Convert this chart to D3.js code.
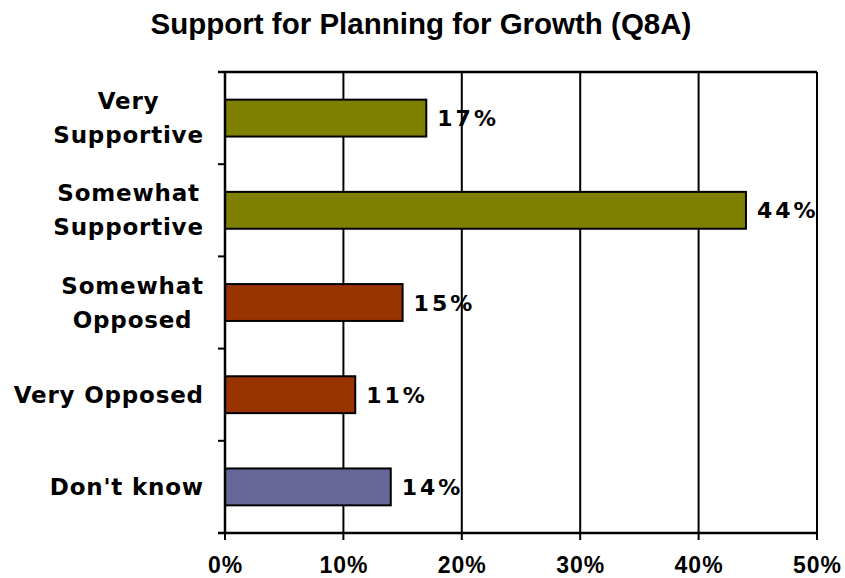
<!DOCTYPE html>
<html>
<head>
<meta charset="utf-8">
<script src="https://cdn.jsdelivr.net/npm/d3@7"></script>
<style>
  html, body { margin: 0; padding: 0; background: #fff; }
  svg { display: block; }
</style>
</head>
<body>
<svg id="chart" width="845" height="578"></svg>
<script>
// Survey responses, top to bottom
const categories = [["Very", "Supportive"], ["Somewhat", "Supportive"], ["Somewhat", "Opposed"], ["Very Opposed"], ["Don't know"]];
const values = [17, 44, 15, 11, 14];
const barColors = ["#808000", "#808000", "#993300", "#993300", "#666699"];
const xTicks = [0, 10, 20, 30, 40, 50];
const chartTitle = "Support for Planning for Growth (Q8A)";

const svg = d3.select("#chart");
const margin = { top: 72, right: 28, bottom: 45, left: 225 };
const W = 845, H = 578;
const innerW = W - margin.left - margin.right;
const innerH = H - margin.top - margin.bottom;

const keys = categories.map((c, i) => i);
const x = d3.scaleLinear().domain([0, 50]).range([0, innerW]);
const y = d3.scaleBand().domain(keys).range([0, innerH]).paddingInner(0.6).paddingOuter(0.3);
const yBand = d3.scaleBand().domain(keys).range([0, innerH]);

const verdana = "DejaVu Sans, Verdana, sans-serif";
const arial = "Liberation Sans, Arial, sans-serif";

svg.append("text")
  .attr("x", 421).attr("y", 34)
  .attr("text-anchor", "middle")
  .attr("font-family", arial)
  .attr("font-weight", "bold")
  .attr("font-size", 29.5)
  .text(chartTitle);

const g = svg.append("g").attr("transform", `translate(${margin.left},${margin.top})`);

// vertical gridlines
g.selectAll("line.grid").data(xTicks.slice(1)).join("line")
  .attr("class", "grid")
  .attr("x1", d => x(d)).attr("x2", d => x(d))
  .attr("y1", 0).attr("y2", innerH)
  .attr("stroke", "#000").attr("stroke-width", 2);

// top border
g.append("line").attr("x1", -7).attr("x2", innerW).attr("y1", 0).attr("y2", 0)
  .attr("stroke", "#000").attr("stroke-width", 2.5);

// bars
g.selectAll("rect.bar").data(values).join("rect")
  .attr("class", "bar")
  .attr("x", 0)
  .attr("y", (d, i) => y(i))
  .attr("width", d => x(d))
  .attr("height", y.bandwidth())
  .attr("fill", (d, i) => barColors[i])
  .attr("stroke", "#000").attr("stroke-width", 2);

// value labels
g.selectAll("text.val").data(values).join("text")
  .attr("class", "val")
  .attr("x", d => x(d) + 11)
  .attr("y", (d, i) => y(i) + y.bandwidth() / 2 + 8)
  .attr("font-family", verdana)
  .attr("font-weight", "bold")
  .attr("font-size", 22)
  .attr("letter-spacing", 3)
  .text(d => d + "%");

// y axis
const yAxis = g.append("g");
yAxis.append("line").attr("x1", 0).attr("x2", 0).attr("y1", 0).attr("y2", innerH)
  .attr("stroke", "#000").attr("stroke-width", 2.5);
const bounds = keys.map(k => yBand(k)).concat([innerH]);
yAxis.selectAll("line.tick").data(bounds).join("line")
  .attr("class", "tick")
  .attr("x1", -7).attr("x2", 0).attr("y1", d => d).attr("y2", d => d)
  .attr("stroke", "#000").attr("stroke-width", 2);

// category labels: right-aligned block, lines centered on each other
const labelRight = -22;
const lineGap = 34;
const labelSpacing = 0.8;
categories.forEach((lines, i) => {
  const cy = y(i) + y.bandwidth() / 2;
  const t = g.append("text")
    .attr("font-family", verdana)
    .attr("font-weight", "bold")
    .attr("font-size", 23)
    .attr("letter-spacing", labelSpacing)
    .attr("text-anchor", "middle");
  const spans = lines.map((s, j) => t.append("tspan")
    .attr("y", cy + (j - (lines.length - 1) / 2) * lineGap + 8)
    .text(s));
  const widest = d3.max(spans, s => s.node().getComputedTextLength());
  spans.forEach(s => s.attr("x", labelRight - widest / 2 + labelSpacing));
});

// x axis
const xAxis = g.append("g").attr("transform", `translate(0,${innerH})`);
xAxis.append("line").attr("x1", -7).attr("x2", innerW).attr("y1", 0).attr("y2", 0)
  .attr("stroke", "#000").attr("stroke-width", 2.5);
xAxis.selectAll("line.tick").data(xTicks).join("line")
  .attr("class", "tick")
  .attr("x1", d => x(d)).attr("x2", d => x(d)).attr("y1", 0).attr("y2", 7)
  .attr("stroke", "#000").attr("stroke-width", 2);
xAxis.selectAll("text").data(xTicks).join("text")
  .attr("x", d => x(d) + 0.5).attr("y", 40)
  .attr("text-anchor", "middle")
  .attr("font-family", arial)
  .attr("font-weight", "bold")
  .attr("font-size", 23)
  .attr("letter-spacing", 1)
  .text(d => d + "%");
</script>
</body>
</html>
